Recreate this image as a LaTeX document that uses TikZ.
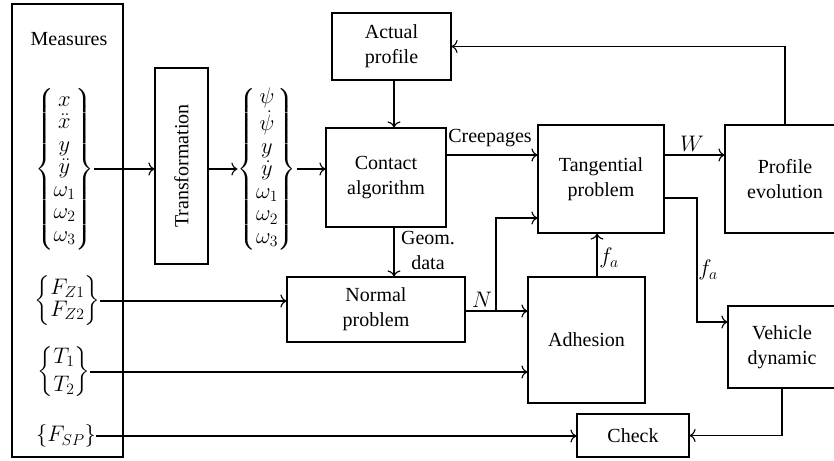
\RequirePackage{fix-cm}
\documentclass[tikz,border=0pt]{standalone}
\usepackage{amsmath}
\usepackage{fontspec}
\setmainfont{Liberation Serif}
\usetikzlibrary{arrows.meta}
\newsavebox{\vecboxA}
\newsavebox{\vecboxB}
\newsavebox{\vecboxC}
\newsavebox{\vecboxD}
\newcommand{\mathsz}{\fontsize{22.5}{25}\selectfont}
\begin{document}
\sbox{\vecboxA}{\mathsz\renewcommand{\arraystretch}{0.9}$\left\{\begin{matrix} x\\ \ddot{x}\\ y\\ \ddot{y}\\ \omega_1\\ \omega_2\\ \omega_3\end{matrix}\right\}$}%
\sbox{\vecboxB}{\mathsz\renewcommand{\arraystretch}{0.9}$\left\{\begin{matrix} \psi\\ \dot{\psi}\\ y\\ \dot{y}\\ \omega_1\\ \omega_2\\ \omega_3\end{matrix}\right\}$}%
\sbox{\vecboxC}{\mathsz\renewcommand{\arraystretch}{0.88}$\left\{\begin{matrix} F_{Z1}\\ F_{Z2}\end{matrix}\right\}$}%
\sbox{\vecboxD}{\mathsz\renewcommand{\arraystretch}{1.0}$\left\{\begin{matrix} T_1\\[3pt] T_2\end{matrix}\right\}$}%
\begin{tikzpicture}[x=1pt,y=-1pt,
  every node/.style={font=\fontsize{20}{25}\selectfont},
  blk/.style={draw, line width=1.1pt, inner sep=0pt, align=center},
  arr/.style={line width=1.1pt, -{To[length=6pt,width=13pt]}},
  lbl/.style={inner sep=0pt, align=center},
  mlbl/.style={inner sep=0pt, font=\mathsz},
  vec/.style={inner sep=0pt}]
\useasboundingbox (0,0) rectangle (834,460);

% blocks
\node[blk, minimum width=111pt, minimum height=453pt] (meas) at (67.5,230.5) {};
\node[lbl] (meastxt) at (69,39) {Measures};
\node[blk, minimum width=53pt, minimum height=196pt] (trans) at (181.5,166) {\rotatebox{90}{Transformation}};
\node[blk, minimum width=119pt, minimum height=67pt] (actual) at (391.5,46.5) {Actual\\profile};
\node[blk, minimum width=120pt, minimum height=99pt] (contact) at (386,177.5) {Contact\\algorithm};
\node[blk, minimum width=126pt, minimum height=108pt] (tang) at (601,179) {Tangential\\problem};
\node[blk, minimum width=120pt, minimum height=108pt] (profile) at (785,179) {Profile\\evolution};
\node[blk, minimum width=108pt, minimum height=82pt] (vehicle) at (782,347) {Vehicle\\dynamic};
\node[blk, minimum width=178pt, minimum height=65pt] (normal) at (376,309.5) {Normal\\problem};
\node[blk, minimum width=117pt, minimum height=126pt] (adh) at (586.5,340) {Adhesion};
\node[blk, minimum width=112pt, minimum height=43pt] (check) at (633,435.5) {Check};

% input vectors
\node[vec] (v1) at (64.5,169) {\usebox{\vecboxA}};
\node[vec] (v2) at (267,169) {\usebox{\vecboxB}};
\node[vec] (vfz) at (67.5,301) {\usebox{\vecboxC}};
\node[vec] (vt) at (64,372) {\usebox{\vecboxD}};
\node[mlbl] (vsp) at (66,436) {$\{F_{SP}\}$};

% helper coordinates
\coordinate (ycr) at (0,155);
\coordinate (ytv) at (0,198);
\coordinate (xtv) at (697,0);
\coordinate (yvd) at (0,322);
\coordinate (xgeo) at (394,0);
\coordinate (xn) at (496,0);
\coordinate (ynt) at (0,218);
\coordinate (yn) at (0,311);
\coordinate (xfa) at (597,0);

% connectors
\draw[arr] (v1.east) -- (v1.east -| trans.west);
\draw[arr] (v2.west -| trans.east) -- (v2.west);
\draw[arr] (v2.east) -- (v2.east -| contact.west);
\draw[arr] (actual.south -| xgeo) -- (contact.north -| xgeo);
\draw[arr] (contact.east |- ycr) -- (tang.west |- ycr);
\draw[arr] (tang.east |- ycr) -- (profile.west |- ycr);
\draw[arr] (profile.north) |- (actual.east);
\draw[arr] (tang.east |- ytv) -| (xtv |- yvd) -- (vehicle.west |- yvd);
\draw[arr] (vehicle.south) |- (check.east);
\draw[arr] (vsp.east) -- (vsp.east -| check.west);
\draw[arr] (vt.east) -- (vt.east -| adh.west);
\draw[arr] (vfz.east) -- (vfz.east -| normal.west);
\draw[arr] (contact.south -| xgeo) -- (normal.north -| xgeo);
\draw[arr] (normal.east |- yn) -- (adh.west |- yn);
\draw[arr] (xn |- yn) |- (tang.west |- ynt);
\draw[arr] (adh.north -| xfa) -- (tang.south -| xfa);

% labels
\node[lbl] (lcr) at (490,138) {Creepages};
\node[mlbl] (lw) at (692,144) {$W$};
\node[lbl] (lgeo) at (428,250) {Geom.\\data};
\node[mlbl] (ln) at (482,300) {$N$};
\node[mlbl] (lfa1) at (609,258) {$f_a$};
\node[mlbl] (lfa2) at (708,270) {$f_a$};
\end{tikzpicture}
\end{document}
